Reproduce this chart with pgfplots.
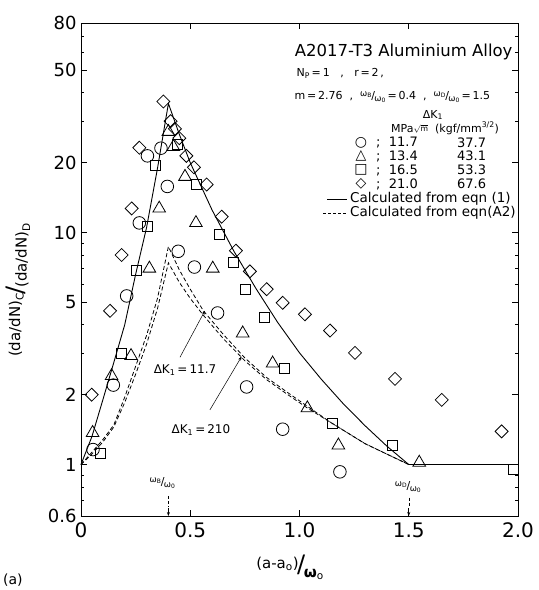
\documentclass[border=0pt]{standalone}
\usepackage{pgfplots}
\pgfplotsset{compat=1.18}
\usepackage{fontspec}
\setmainfont{DejaVu Sans}
\usetikzlibrary{arrows.meta}
\newcommand{\fs}[1]{\fontsize{#1}{#1}\selectfont}
\newcommand{\slf}[2]{\raisebox{0.45ex}{\scalebox{0.78}{#1}}\kern-0.05em/\kern-0.05em\raisebox{-0.35ex}{\scalebox{0.78}{#2}}}
\begin{document}
\begin{tikzpicture}
\path[use as bounding box] (-81pt,-74pt) rectangle (458pt,516pt);
\begin{axis}[
  scale only axis, width=437pt, height=493pt,
  xmin=0, xmax=2, ymin=0.6, ymax=80, ymode=log,
  xtick={0,0.5,1,1.5,2}, xticklabels={0,0.5,1.0,1.5,2.0},
  ytick={0.6,1,2,5,10,20,50,80}, yticklabels={0.6,1,2,5,10,20,50,80},
  minor ytick={0.7,0.8,0.9,3,4,6,7,8,9,30,40,60,70},
  minor x tick num=0,
  tick align=inside, major tick length=6pt, minor tick length=3.5pt,
  /pgf/number format/assume math mode=true,
  yticklabel style={font=\fs{18}, xshift=-1pt},
  xticklabel style={font=\fs{20}, yshift=-3pt},
  axis line style={line width=0.9pt},
  every tick/.style={black, line width=0.7pt},
  clip=false,
]
% eqn (1) solid
\addplot[black, line width=0.9pt] coordinates {
 (0,1) (0.05,1.32) (0.1,1.9) (0.15,2.75) (0.2,4.0) (0.25,6.6) (0.3,10.5) (0.35,18.9) (0.4,36)
 (0.45,26.5) (0.5,20.0) (0.6,12.5) (0.7,8.3) (0.8,5.75) (0.9,4.1) (1.0,3.03)
 (1.1,2.33) (1.2,1.83) (1.3,1.47) (1.4,1.2) (1.5,1.0) (2.0,1.0)};
% eqn (A2) dashed, upper
\addplot[black, line width=0.8pt, dash pattern=on 4pt off 2.5pt] coordinates {
 (0,1) (0.05,1.13) (0.1,1.28) (0.15,1.48) (0.2,1.95) (0.25,2.65) (0.3,3.6) (0.35,5.2) (0.4,8.7)
 (0.45,6.9) (0.5,5.7) (0.56,4.6) (0.65,3.65) (0.75,2.88) (0.85,2.37) (0.95,2.03) (1.033,1.79)
 (1.147,1.51) (1.3,1.23) (1.5,1.0)};
% eqn (A2) dashed, lower
\addplot[black, line width=0.8pt, dash pattern=on 4pt off 2.5pt] coordinates {
 (0,1) (0.05,1.11) (0.1,1.25) (0.15,1.45) (0.2,1.85) (0.25,2.45) (0.3,3.3) (0.35,4.7) (0.4,7.4)
 (0.45,6.1) (0.5,5.2) (0.56,4.4) (0.65,3.5) (0.75,2.8) (0.85,2.32) (0.95,1.99) (1.033,1.76)
 (1.147,1.51) (1.3,1.23) (1.5,1.0)};
% circles: 11.7
\addplot[only marks, mark=o, mark size=6.3pt, mark options={line width=0.8pt, black}] coordinates {
 (0.055,1.16) (0.148,2.2) (0.209,5.33) (0.267,11.0) (0.304,21.4) (0.366,23.1) (0.395,15.8)
 (0.445,8.3) (0.519,7.1) (0.625,4.5) (0.758,2.16) (0.923,1.42) (1.185,0.93)};
% triangles: 13.4
\addplot[only marks, mark=triangle, mark size=7.3pt, mark options={line width=0.8pt, black}] coordinates {
 (0.053,1.37) (0.14,2.41) (0.229,2.94) (0.313,7.0) (0.358,12.7) (0.40,27.2) (0.423,23.4)
 (0.476,17.4) (0.526,11.0) (0.603,7.0) (0.740,3.68) (0.877,2.73) (1.036,1.75) (1.178,1.21) (1.548,1.02)};
% squares: 16.5
\addplot[only marks, mark=square, mark size=5pt, mark options={line width=0.8pt, black}] coordinates {
 (0.087,1.12) (0.186,3.0) (0.255,6.9) (0.304,10.6) (0.339,19.4) (0.44,24) (0.526,16.1)
 (0.633,9.8) (0.697,7.4) (0.754,5.7) (0.839,4.3) (0.930,2.6) (1.150,1.51) (1.425,1.21) (1.98,0.95)};
% diamonds: 21.0
\addplot[only marks, mark=square, mark size=4.6pt, mark options={line width=0.8pt, black, rotate=45}] coordinates {
 (0.049,2.0) (0.133,4.6) (0.186,8.0) (0.232,12.7) (0.267,23.2) (0.377,36.7) (0.41,30.2) (0.43,28)
 (0.45,25.5) (0.482,21.4) (0.517,19.1) (0.575,16.1) (0.644,11.7) (0.709,8.35) (0.773,6.8)
 (0.85,5.7) (0.923,4.98) (1.025,4.44) (1.14,3.78) (1.254,3.03) (1.437,2.34) (1.651,1.90) (1.925,1.39)};
% annotations
\node[font=\fs{12}] at (axis cs:0.476,2.55) {ΔK\textsubscript{1}\,=\,11.7};
\draw[-{Stealth[length=4pt,width=3pt]}, line width=0.5pt] (axis cs:0.453,2.9) -- (axis cs:0.567,4.6);
\node[font=\fs{12}] at (axis cs:0.549,1.41) {ΔK\textsubscript{1}\,=\,210};
\draw[-{Stealth[length=4pt,width=3pt]}, line width=0.5pt] (axis cs:0.59,1.72) -- (axis cs:0.735,2.92);
\node[font=\fs{11}] at (axis cs:0.373,0.833) {\slf{ω\textsubscript{B}}{ω\textsubscript{0}}};
\draw[densely dashed, line width=0.5pt] (axis cs:0.4,0.73) -- (axis cs:0.4,0.655);
\draw[-{Stealth[length=4pt,width=3pt]}, line width=0.6pt] (axis cs:0.4,0.65) -- (axis cs:0.4,0.6);
\node[font=\fs{11}] at (axis cs:1.497,0.80) {\slf{ω\textsubscript{D}}{ω\textsubscript{0}}};
\draw[densely dashed, line width=0.5pt] (axis cs:1.5,0.72) -- (axis cs:1.5,0.655);
\draw[-{Stealth[length=4pt,width=3pt]}, line width=0.6pt] (axis cs:1.5,0.65) -- (axis cs:1.5,0.6);
\end{axis}
% header texts
\node[anchor=base east, font=\fs{16.5}] at (435pt,459pt) {A2017-T3 Aluminium Alloy};
\node[anchor=west, font=\fs{11}] at (212pt,443pt) {N\textsubscript{P}\,=\,1 \ \ ,\ \ \ r\,=\,2\,,};
\node[anchor=west, font=\fs{11}] at (210pt,419pt) {m\,=\,2.76 \ ,\ \ \slf{ω\textsubscript{B}}{ω\textsubscript{0}}\,=\,0.4\ \ ,\ \ \slf{ω\textsubscript{D}}{ω\textsubscript{0}}\,=\,1.5};
\node[font=\fs{11}, inner sep=0pt] at (352pt,401pt) {ΔK\textsubscript{1}};
\node[anchor=west, font=\fs{11}, inner sep=0pt] at (310pt,388pt) {MPa\raisebox{0.1ex}{$\scriptstyle\sqrt{\mathrm{m}}$} \ (kgf/mm\textsuperscript{3/2})};
\begin{scope}[every node/.style={inner sep=0pt}]
\node[font=\fs{14}] at (280pt,373pt) {○};
\node[font=\fs{14}] at (280pt,360pt) {△};
\node[font=\fs{14}] at (280pt,346pt) {□};
\node[font=\fs{14}] at (280pt,332pt) {◇};
\node[anchor=west, font=\fs{13}] at (295pt,373pt) {;\ \ 11.7};
\node[anchor=west, font=\fs{13}] at (295pt,360pt) {;\ \ 13.4};
\node[anchor=west, font=\fs{13}] at (295pt,346pt) {;\ \ 16.5};
\node[anchor=west, font=\fs{13}] at (295pt,332pt) {;\ \ 21.0};
\node[anchor=west, font=\fs{13}] at (376pt,373pt) {37.7};
\node[anchor=west, font=\fs{13}] at (376pt,360pt) {43.1};
\node[anchor=west, font=\fs{13}] at (376pt,346pt) {53.3};
\node[anchor=west, font=\fs{13}] at (376pt,332pt) {67.6};
\node[anchor=west, font=\fs{13.5}] at (269pt,317pt) {Calculated from eqn (1)};
\node[anchor=west, font=\fs{13.5}] at (269pt,303pt) {Calculated from eqn(A2)};
\end{scope}
\draw[line width=0.9pt] (246pt,317pt) -- (266pt,317pt);
\draw[line width=0.8pt, dash pattern=on 3pt off 2pt] (242pt,303pt) -- (266pt,303pt);
% axis labels
\node[rotate=90, font=\fs{15}] at (-63pt,226pt) {\raisebox{0.4ex}{(da/dN)\textsubscript{C}}\kern-0.1em{\fs{24}/}\kern-0.1em\raisebox{-0.4ex}{(da/dN)\textsubscript{D}}};
\node[font=\fs{15}] at (209pt,-51pt) {\raisebox{0.5ex}{(a-a\textsubscript{o})}\kern-0.1em{\fs{24}/}\kern-0.1em\raisebox{-0.6ex}{\textbf{ω}\textsubscript{o}}};
\node[anchor=north west, font=\fs{14}, inner sep=0pt] at (-78pt,-58pt) {(a)};
\end{tikzpicture}
\end{document}
